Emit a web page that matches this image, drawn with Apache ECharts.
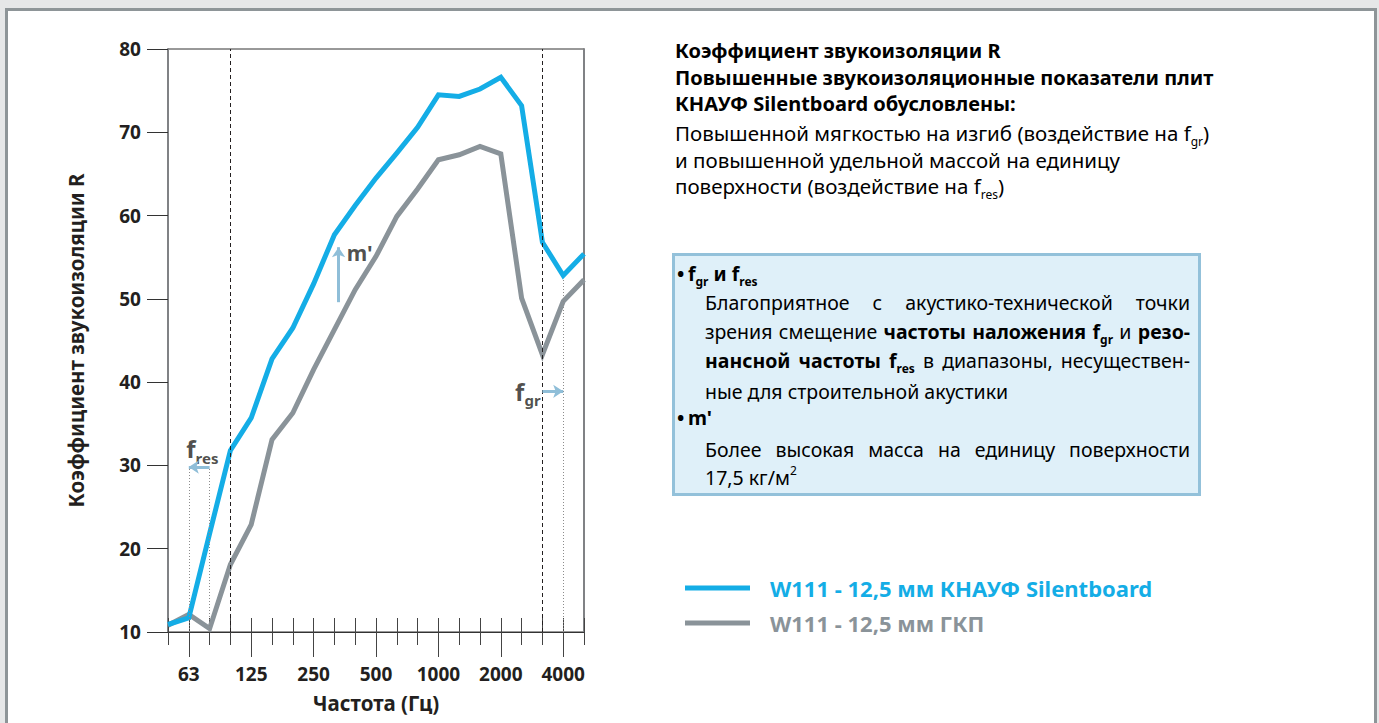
<!DOCTYPE html>
<html><head><meta charset="utf-8">
<script src="https://cdn.jsdelivr.net/npm/echarts@6/dist/echarts.min.js"></script>
<style>
html,body{margin:0;padding:0;background:#e6e7e8;width:1379px;height:723px;overflow:hidden}
#panel{position:absolute;left:5px;top:8px;width:1366px;height:730px;border:3px solid #8e9598;background:#fff}
#chart{position:absolute;left:0;top:0;width:1379px;height:723px}
</style></head><body>
<div id="panel"></div><div id="chart"></div>
<script>
// ---------- data ----------
const categories = ['50','63','80','100','125','160','200','250','315','400','500','630','800','1000','1250','1600','2000','2500','3150','4000','5000'];
const tickLabels = ['63','125','250','500','1000','2000','4000'];
const seriesNames = ['W111 - 12,5 мм КНАУФ Silentboard', 'W111 - 12,5 мм ГКП'];
const silentboard = [10.9, 11.7, 21.8, 31.8, 35.7, 42.8, 46.5, 51.8, 57.7, 61.2, 64.5, 67.5, 70.6, 74.5, 74.3, 75.2, 76.6, 73.2, 56.8, 52.8, 55.4];
const gkp         = [10.8, 12.1, 10.4, 18.1, 22.9, 33.1, 36.3, 41.5, 46.3, 51.1, 55.1, 59.9, 63.2, 66.7, 67.3, 68.3, 67.4, 50.1, 43.3, 49.7, 52.3];
const yTitle = 'Коэффициент звукоизоляции R';
const xTitle = 'Частота (Гц)';

// ---------- style ----------
const FF = "'Noto Sans', sans-serif";
const TXT = '#231f20';
const BLUE = '#14ade6';
const GREY = '#8a9399';
const ARROW = '#8fbed8';

const ctx = document.createElement('canvas').getContext('2d');
function tw(text, size, weight) { ctx.font = `${weight} ${size}px ${FF}`; return ctx.measureText(text).width; }
function fit(text, width, weight) { return Math.round(width / tw(text, 100, weight) * 100 * 2) / 2; }

function mkRich(size) {
  const sub = Math.round(size * 0.6);
  return {
    n:  {fontFamily: FF, fontSize: size, fontWeight: 'normal', color: TXT},
    b:  {fontFamily: FF, fontSize: size, fontWeight: 'bold', color: TXT},
    ns: {fontFamily: FF, fontSize: sub, fontWeight: 'normal', color: TXT, padding: [Math.round(size*0.8), 0, 0, 0]},
    bs: {fontFamily: FF, fontSize: sub, fontWeight: 'bold', color: TXT, padding: [Math.round(size*0.8), 0, 0, 0]},
    sup:{fontFamily: FF, fontSize: sub, fontWeight: 'normal', color: TXT, padding: [0, 0, Math.round(size*0.7), 0]}
  };
}
function segW(seg, rich) { const s = rich[seg[0]]; return tw(seg[1], s.fontSize, s.fontWeight); }
function richStr(word) { return word.map(([st, t]) => `{${st}|${t}}`).join(''); }
function textEl(x, y, word, rich) {
  return {type: 'text', x: x, y: y, silent: true, style: {text: richStr(word), rich: rich, verticalAlign: 'middle', align: 'left'}};
}
function wordsWidth(words, rich) { return words.reduce((a, w) => a + w.reduce((b, s) => b + segW(s, rich), 0), 0); }
function justify(words, x0, x1, y, rich) {
  const ws = words.map(w => w.reduce((a, s) => a + segW(s, rich), 0));
  const total = ws.reduce((a, b) => a + b, 0);
  const gap = (x1 - x0 - total) / (words.length - 1);
  let x = x0;
  return words.map((w, i) => { const el = textEl(x, y, w, rich); x += ws[i] + gap; return el; });
}
const W = t => t.split(' ').map(s => [['n', s]]);

// box text lines
const boxL1 = W('Благоприятное с акустико-технической точки');
const boxL2 = [[['n','зрения']],[['n','смещение']],[['b','частоты']],[['b','наложения']],[['b','f'],['bs','gr']],[['n','и']],[['b','резо-']]];
const boxL3 = [[['b','нансной']],[['b','частоты']],[['b','f'],['bs','res']],[['n','в']],[['n','диапазоны,']],[['n','несуществен-']]];
const boxL6 = W('Более высокая масса на единицу поверхности');

const HS = fit('Повышенные звукоизоляционные показатели плит', 541, 'bold');
const BS = fit('и повышенной удельной массой на единицу', 446, 'normal');
let KS = fit('ные для строительной акустики', 328, 'normal');
[boxL1, boxL2, boxL3, boxL6].forEach(l => {
  while (wordsWidth(l, mkRich(KS)) + (l.length - 1) * 5.5 > 485 && KS > 10) KS -= 0.25;
});
const LS = fit(seriesNames[0], 378, 'bold');
const YN = fit(yTitle, 333, 'bold');
const XN = fit(xTitle, 127, 'bold');
const RH = mkRich(HS), RB = mkRich(BS), RK = mkRich(KS);

const graphics = [
  textEl(675, 50, [['b', 'Коэффициент звукоизоляции R']], RH),
  textEl(675, 77, [['b', 'Повышенные звукоизоляционные показатели плит']], RH),
  textEl(675, 103, [['b', 'КНАУФ Silentboard обусловлены:']], RH),
  textEl(675, 133, [['n', 'Повышенной мягкостью на изгиб (воздействие на f'], ['ns', 'gr'], ['n', ')']], RB),
  textEl(675, 160, [['n', 'и повышенной удельной массой на единицу']], RB),
  textEl(675, 186, [['n', 'поверхности (воздействие на f'], ['ns', 'res'], ['n', ')']], RB),
  {type: 'rect', silent: true, shape: {x: 673.5, y: 254.5, width: 526, height: 240},
   style: {fill: '#dff0f9', stroke: '#93c1da', lineWidth: 3}},
  textEl(677, 273, [['b', '•']], RK),
  textEl(688, 273, [['b', 'f'], ['bs', 'gr'], ['b', ' и f'], ['bs', 'res']], RK),
  ...justify(boxL1, 705, 1190, 302, RK),
  ...justify(boxL2, 705, 1190, 331, RK),
  ...justify(boxL3, 705, 1190, 360, RK),
  textEl(705, 391, [['n', 'ные для строительной акустики']], RK),
  textEl(677, 417, [['b', '•']], RK),
  textEl(688, 417, [['b', "m'"]], RK),
  ...justify(boxL6, 705, 1190, 449, RK),
  textEl(705, 477, [['n', '17,5 кг/м'], ['sup', '2']], RK)
];

// annotation labels / arrows (in category-index units)
const idx = c => categories.indexOf(c);
const AR = {
  f:  {fontFamily: FF, fontSize: 24, fontWeight: 'bold', color: TXT},
  m:  {fontFamily: FF, fontSize: 21, fontWeight: 'bold', color: TXT},
  s:  {fontFamily: FF, fontSize: 15, fontWeight: 'bold', color: TXT, padding: [18, 0, 0, 0]}
};
const annotLabels = [
  {value: [1.65, 32.0], text: '{f|f}{s|res}'},
  {value: [17.3, 38.9], text: '{f|f}{s|gr}'},
  {value: [9.22, 55.5], text: "{m|m'}"}
];

const chart = echarts.init(document.getElementById('chart'), null, {renderer: 'svg'});
const axisCommon = {type: 'category', data: categories, boundaryGap: false, position: 'bottom'};
chart.setOption({
  animation: false,
  textStyle: {fontFamily: FF},
  grid: {left: 168, top: 49, width: 416, height: 583, show: true, borderColor: '#333', borderWidth: 1, backgroundColor: 'transparent', outerBoundsMode: 'none', containLabel: false},
  legend: {
    orient: 'vertical', left: 680, top: 571, itemWidth: 65, itemHeight: 5, itemGap: 11, icon: 'rect',
    textStyle: {fontFamily: FF, fontSize: LS, fontWeight: 'bold', lineHeight: 24, padding: [0, 0, 0, 15]},
    data: [
      {name: seriesNames[0], textStyle: {color: BLUE}},
      {name: seriesNames[1], textStyle: {color: GREY}}
    ],
    selectedMode: false
  },
  xAxis: [
    Object.assign({}, axisCommon, {
      axisLine: {show: true, lineStyle: {color: '#333', width: 1}},
      axisTick: {show: true, interval: 0, length: 13, lineStyle: {color: '#444', width: 1}},
      axisLabel: {show: true, interval: (i, v) => tickLabels.includes(v), margin: 32, color: TXT, fontFamily: FF, fontSize: 19, fontWeight: 'bold'},
      splitLine: {show: false},
      name: xTitle, nameLocation: 'middle', nameGap: 60,
      nameTextStyle: {color: TXT, fontFamily: FF, fontSize: XN, fontWeight: 'bold'}
    }),
    Object.assign({}, axisCommon, {
      axisLine: {show: false},
      axisTick: {show: true, interval: (i, v) => tickLabels.includes(v), length: 25, lineStyle: {color: '#444', width: 1}},
      axisLabel: {show: false}, splitLine: {show: false}
    }),
    Object.assign({}, axisCommon, {
      axisLine: {show: false},
      axisTick: {show: true, inside: true, interval: 0, length: 14, lineStyle: {color: '#444', width: 1}},
      axisLabel: {show: false}, splitLine: {show: false}
    }),
    {type: 'value', min: 0, max: categories.length - 1, show: false, position: 'top'}
  ],
  yAxis: [
    {type: 'value', min: 10, max: 80, interval: 10,
     axisLine: {show: true, lineStyle: {color: '#808285', width: 2}},
     axisTick: {show: true, length: 21, lineStyle: {color: '#333', width: 1}},
     splitLine: {show: false},
     axisLabel: {margin: 27, color: TXT, fontFamily: FF, fontSize: 19, fontWeight: 'bold'},
     name: yTitle, nameLocation: 'middle', nameGap: 82,
     nameTextStyle: {color: TXT, fontFamily: FF, fontSize: YN, fontWeight: 'bold'}},
    {type: 'value', min: 10, max: 80, interval: 10, position: 'right',
     axisLine: {show: true, lineStyle: {color: '#808285', width: 2}},
     axisTick: {show: false}, axisLabel: {show: false}, splitLine: {show: false}}
  ],
  series: [
    {
      type: 'scatter', name: 'annot', xAxisIndex: 3, yAxisIndex: 0, z: 1, silent: true,
      symbol: 'circle', symbolSize: 1, itemStyle: {color: 'rgba(0,0,0,0)'},
      data: annotLabels.map(a => ({value: a.value, label: {show: true, formatter: a.text}})),
      label: {show: true, position: 'inside', color: TXT, rich: AR},
      markLine: {
        silent: true, symbol: 'none', label: {show: false},
        data: [
          {xAxis: idx('100'), lineStyle: {type: [4, 3], color: '#231f20', width: 1}},
          {xAxis: idx('3150'), lineStyle: {type: [4, 3], color: '#231f20', width: 1}},
          [{coord: [idx('63'), 10], lineStyle: {type: [1, 2], color: '#8c8c8c', width: 1}}, {coord: [idx('63'), 29.8]}],
          [{coord: [idx('80'), 10], lineStyle: {type: [1, 2], color: '#8c8c8c', width: 1}}, {coord: [idx('80'), 29.8]}],
          [{coord: [idx('4000'), 10], lineStyle: {type: [1, 2], color: '#8c8c8c', width: 1}}, {coord: [idx('4000'), 52.5]}],
          [{coord: [idx('80'), 29.8], symbol: 'none', lineStyle: {color: ARROW, width: 3, type: 'solid'}}, {coord: [idx('63'), 29.8], symbol: 'arrow', symbolSize: 10}],
          [{coord: [idx('3150'), 38.9], symbol: 'none', lineStyle: {color: ARROW, width: 3, type: 'solid'}}, {coord: [idx('4000'), 38.9], symbol: 'arrow', symbolSize: 10}],
          [{coord: [8.2, 49.6], symbol: 'none', lineStyle: {color: ARROW, width: 3, type: 'solid'}}, {coord: [8.2, 56.2], symbol: 'arrow', symbolSize: 10}]
        ]
      }
    },
    {type: 'line', name: seriesNames[1], data: gkp, xAxisIndex: 0, yAxisIndex: 0, z: 3,
     symbol: 'none', itemStyle: {color: GREY}, lineStyle: {color: GREY, width: 5, join: 'miter'}},
    {type: 'line', name: seriesNames[0], data: silentboard, xAxisIndex: 0, yAxisIndex: 0, z: 4,
     symbol: 'none', itemStyle: {color: BLUE}, lineStyle: {color: BLUE, width: 5, join: 'miter'}}
  ],
  graphic: graphics
});
</script>
</body></html>
